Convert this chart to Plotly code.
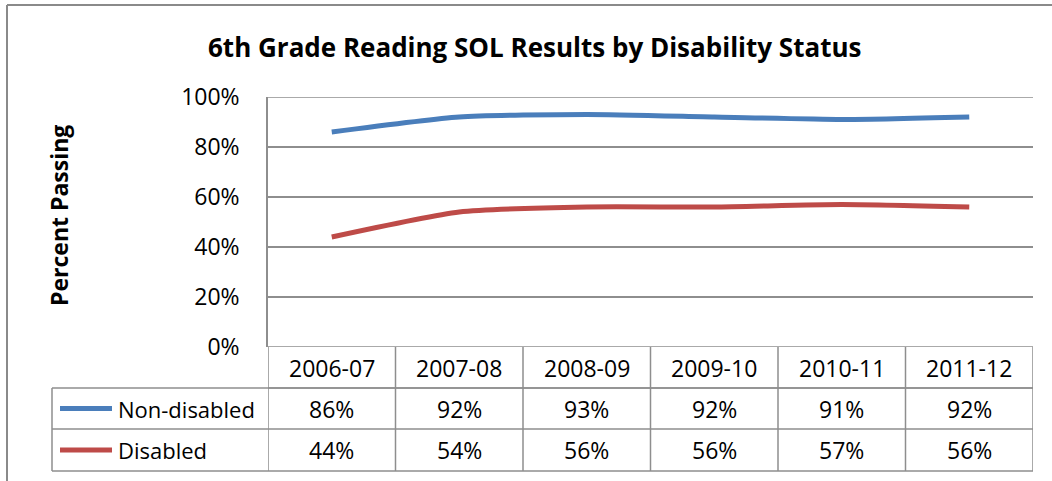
import plotly.graph_objects as go

# ---- data ----
categories = ["2006-07", "2007-08", "2008-09", "2009-10", "2010-11", "2011-12"]
non_disabled = [86, 92, 93, 92, 91, 92]
disabled = [44, 54, 56, 56, 57, 56]
series_names = ["Non-disabled", "Disabled"]
y_ticks = [0, 20, 40, 60, 80, 100]
title_text = "6th Grade Reading SOL Results by Disability Status"
y_title = "Percent Passing"

# ---- styling / layout ----
W, H = 1052, 481
L, R, T, B = 268, 1033, 97, 347  # plot area in pixels
BLUE = "#4A7EBB"
RED = "#BE4B48"
GRID = "#8E8E8E"
FONT = "Open Sans"
NUM_SIZE = 23
colors = [BLUE, RED]
series = [non_disabled, disabled]

def px_x(p):
    return (p - L) / (R - L)

def px_y(p):
    return (B - p) / (B - T)

fig = go.Figure()
xs = list(range(len(categories)))
for name, vals, col in zip(series_names, series, colors):
    fig.add_trace(go.Scatter(
        x=xs, y=vals, mode="lines", name=name,
        line=dict(color=col, width=5, shape="spline", smoothing=0.6),
        showlegend=False, hoverinfo="skip"))

shapes = []
annotations = []

# outer chart frame (left and top)
shapes.append(dict(type="line", xref="paper", yref="paper",
                   x0=px_x(7), x1=px_x(W + 5), y0=px_y(5), y1=px_y(5),
                   line=dict(color="#8A8A8A", width=2)))
shapes.append(dict(type="line", xref="paper", yref="paper",
                   x0=px_x(7), x1=px_x(7), y0=px_y(5), y1=px_y(H + 5),
                   line=dict(color="#8A8A8A", width=2)))

grid_line = dict(color=GRID, width=1.5)
# gridlines at the range ends (plotly omits them)
for t in (y_ticks[0], y_ticks[-1]):
    shapes.append(dict(type="line", xref="paper", yref="y", x0=0, x1=1, y0=t, y1=t,
                       line=grid_line, layer="below"))

# table geometry
row_edges = [347, 388, 429, 471]
tbl_left = 52
shapes.append(dict(type="line", xref="paper", yref="paper",
                   x0=0, x1=1, y0=px_y(row_edges[1]), y1=px_y(row_edges[1]), line=grid_line))
for py in row_edges[1:]:
    shapes.append(dict(type="line", xref="paper", yref="paper",
                       x0=px_x(tbl_left), x1=1, y0=px_y(py), y1=px_y(py), line=grid_line))
for k in range(len(categories) + 1):
    shapes.append(dict(type="line", xref="x", yref="paper",
                       x0=k - 0.5, x1=k - 0.5, y0=0, y1=px_y(row_edges[-1]), line=grid_line))
shapes.append(dict(type="line", xref="paper", yref="paper",
                   x0=px_x(tbl_left), x1=px_x(tbl_left),
                   y0=px_y(row_edges[1]), y1=px_y(row_edges[-1]), line=grid_line))

# category labels
hdr_c = px_y((row_edges[0] + row_edges[1]) / 2)
for i, c in enumerate(categories):
    annotations.append(dict(x=i, y=hdr_c, xref="x", yref="paper", text=c,
                            xanchor="center", yanchor="middle", showarrow=False,
                            font=dict(size=NUM_SIZE, color="#000", family=FONT)))

# data rows
for r, (name, vals, col) in enumerate(zip(series_names, series, colors)):
    yc = px_y((row_edges[r + 1] + row_edges[r + 2]) / 2)
    for i, v in enumerate(vals):
        annotations.append(dict(x=i, y=yc, xref="x", yref="paper", text=f"{v}%",
                                xanchor="center", yanchor="middle", showarrow=False,
                                font=dict(size=NUM_SIZE, color="#000", family=FONT)))
    shapes.append(dict(type="line", xref="paper", yref="paper",
                       x0=px_x(60), x1=px_x(112), y0=yc, y1=yc,
                       line=dict(color=col, width=5)))
    annotations.append(dict(x=px_x(116), y=yc, xref="paper", yref="paper", text=name,
                            xanchor="left", yanchor="middle", showarrow=False,
                            font=dict(size=22, color="#000", family=FONT)))

# title
annotations.append(dict(x=px_x(534), y=px_y(47), xref="paper", yref="paper",
                        text=f"<b>{title_text}</b>", xanchor="center", yanchor="middle",
                        showarrow=False, font=dict(size=26, color="#000", family=FONT)))
# y axis title
annotations.append(dict(x=px_x(59), y=px_y(216), xref="paper", yref="paper",
                        text=f"<b>{y_title}</b>", textangle=-90, xanchor="center",
                        yanchor="middle", showarrow=False,
                        font=dict(size=23, color="#000", family=FONT)))

fig.update_layout(
    width=W, height=H,
    margin=dict(l=L, r=W - R, t=T, b=H - B),
    paper_bgcolor="white", plot_bgcolor="white",
    shapes=shapes, annotations=annotations,
    xaxis=dict(range=[-0.5, len(categories) - 0.5], showticklabels=False,
               showgrid=False, zeroline=False, showline=False, fixedrange=True),
    yaxis=dict(range=[0, 100], tickvals=y_ticks, ticktext=[f"{t}%" for t in y_ticks],
               showgrid=True, gridcolor=GRID, gridwidth=1.5, zeroline=False,
               showline=True, linecolor=GRID, linewidth=1.5,
               ticks="", ticklabelstandoff=22,
               tickfont=dict(size=NUM_SIZE, color="#000", family=FONT), fixedrange=True),
)

fig.write_html("out.html")
